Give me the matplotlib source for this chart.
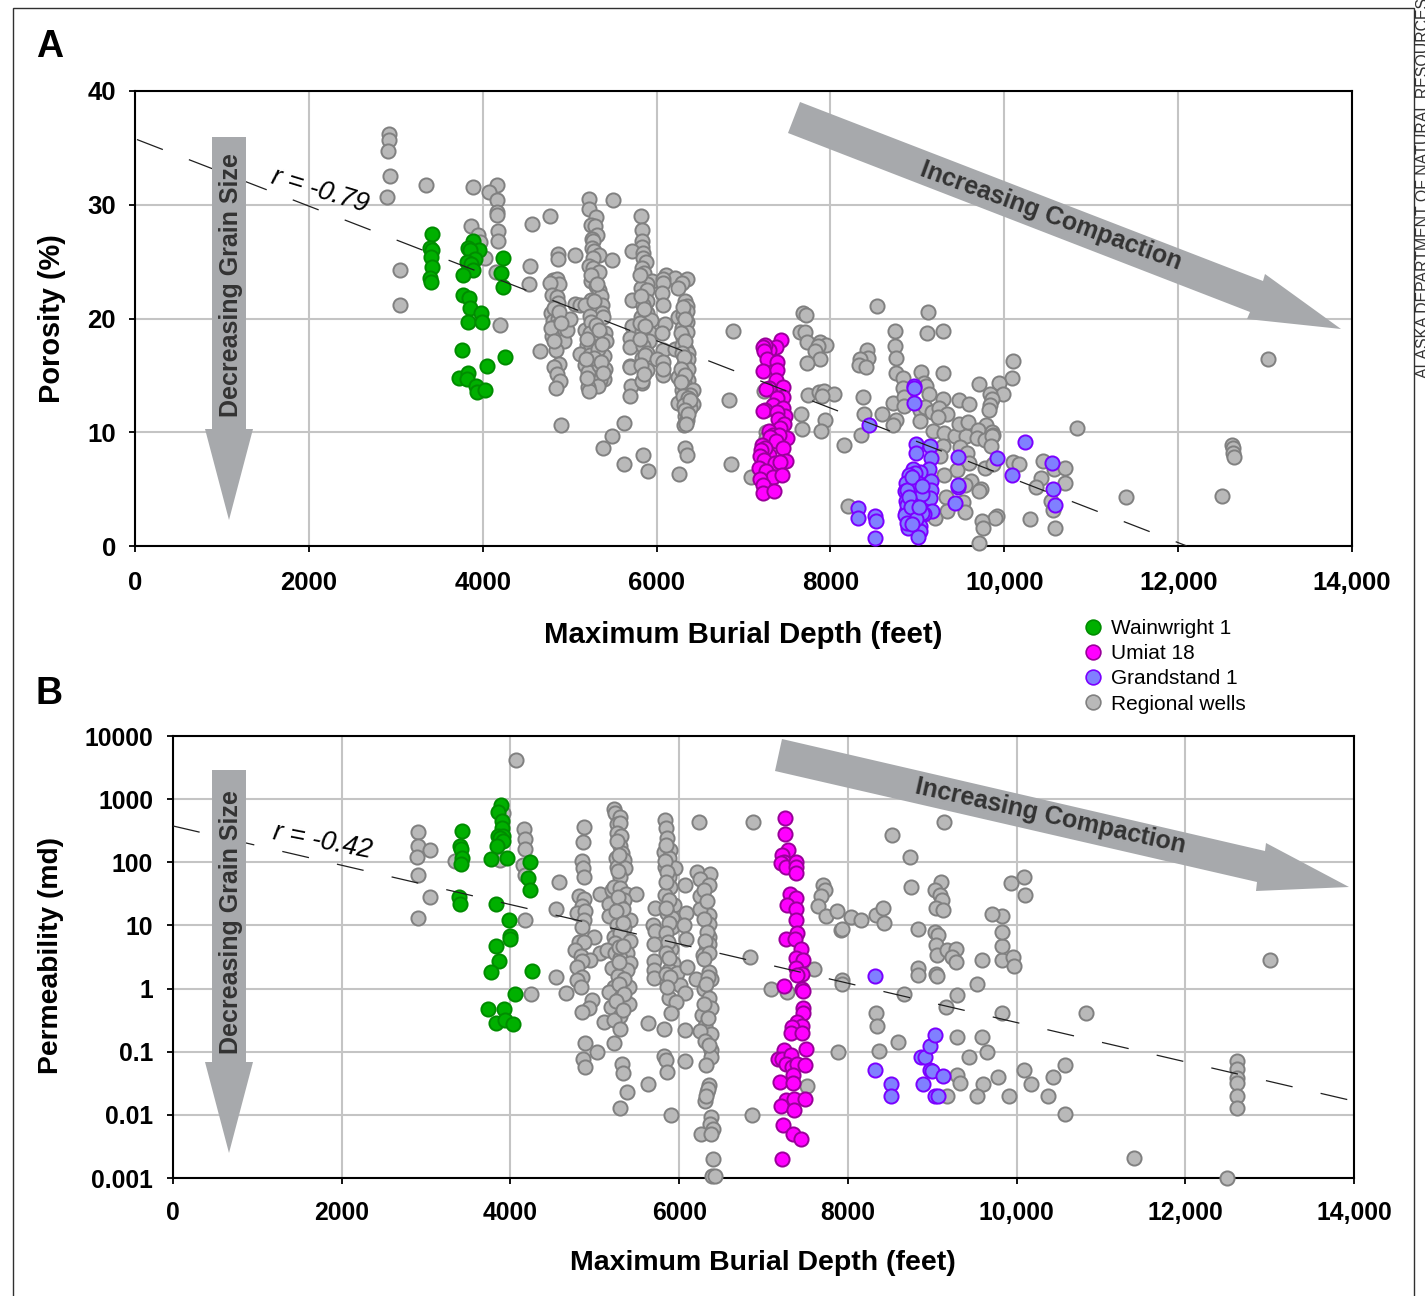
import matplotlib
matplotlib.use("Agg")
import matplotlib.pyplot as plt
from matplotlib.patches import Polygon, Rectangle
from matplotlib.lines import Line2D

plt.rcParams['font.family'] = ['Liberation Sans', 'DejaVu Sans']
plt.rcParams['lines.scale_dashes'] = False

W, H = 1425, 1296

# Panel A: (depth in feet, porosity in %)
wainwright_a = [(3420,27.4),(3397,26.2),(3420,26.0),(3401,25.4),(3412,24.5),(3389,23.6),(3409,23.2),
    (3889,26.8),(3831,26.2),(3958,26.0),(3850,26.0),(3908,25.2),(3820,25.0),(3860,24.8),(3889,24.3),(3773,23.8),
    (4234,25.3),(4207,24.0),(4234,22.8),(3773,22.1),(3839,21.8),(3858,20.9),(3985,20.5),(3831,19.7),(3996,19.7),
    (3766,17.2),(4261,16.6),(4050,15.8),(3724,14.8),(3827,15.2),(3820,14.7),(3919,14.1),(3931,13.5),(4031,13.7)]
umiat_a = [(7433,18.1),(7372,17.5),(7288,17.2),(7249,17.7),(7225,17.5),(7238,17.1),(7268,16.4),(7383,16.2),(7230,15.4),
    (7383,15.5),(7376,14.6),(7288,13.9),(7260,13.8),(7460,14.0),(7452,13.1),(7383,13.0),(7345,12.4),(7249,12.0),(7230,11.9),
    (7460,12.1),(7479,11.4),(7383,11.8),(7400,11.2),(7471,10.7),(7420,10.4),(7288,10.1),(7345,9.8),(7498,9.5),(7410,9.8),
    (7300,9.6),(7370,9.2),(7211,8.9),(7230,8.2),(7299,8.0),(7250,8.6),(7205,8.4),(7460,8.6),(7192,7.9),(7240,7.6),(7364,7.3),
    (7491,7.5),(7422,7.4),(7180,6.9),(7257,6.6),(7345,6.1),(7441,6.2),(7192,5.9),(7222,5.4),(7222,4.7),(7356,4.8)]
grandstand_a = [(8448,10.6),(8965,14.1),(8965,13.9),(8965,12.6),(8980,9.0),(9145,8.8),(8980,8.2),(9157,7.7),(9471,7.8),
    (9919,7.7),(10237,9.1),(10084,6.2),(10551,7.3),(10562,5.0),(10589,3.6),(9471,5.2),(9465,5.4),(9432,3.8),(8322,3.3),(8322,2.5),
    (8513,2.6),(8525,2.2),(8513,0.7),(9137,6.8),(9030,6.5),(8953,6.8),(8970,6.4),(8907,6.2),(9004,5.5),(9153,5.7),(9153,4.9),
    (9145,4.2),(8866,5.5),(8858,4.8),(8866,4.0),(8896,3.3),(9164,3.1),(9076,2.8),(8866,3.0),(8896,1.6),(8915,2.2),(9030,1.8),
    (9030,1.3),(9004,0.8),(9010,4.6),(8992,3.9),(8954,2.9),(9050,2.9),(8915,4.6),(8953,5.2),(9050,4.6),(8877,4.9),(8934,6.1),
    (8880,3.6),(8900,4.3),(8860,2.7),(8930,3.4),(8990,2.4),(9020,3.4),(8880,2.0),(8940,1.9),(9050,5.3)]
# regional wells, left part and the dense columns
regional_a_left = [(2920,36.2),(2925,35.7),(2910,34.7),(2930,32.5),(2898,30.7),(3343,31.7),(3044,24.3),(3044,21.2),
    (3889,31.6),(4165,31.7),(4069,31.1),(4169,30.4),(4169,29.4),(4169,29.1),(3862,28.1),(3946,27.3),(3965,26.7),(4177,27.7),
    (4180,26.8),(4572,28.3),(4776,29.0),(4157,24.1),(4023,25.3),(4541,24.6),(4534,23.0),(4200,19.4),(4657,17.1),(4906,10.6)]
regional_a_4800 = [(4868,25.7),(4868,25.2),(4810,23.4),(4850,23.5),(4880,23.0),(4775,23.1),(4800,22.1),(4850,21.9),(4868,21.4),
    (4791,20.5),(4810,19.8),(4868,20.0),(4850,19.3),(4838,18.7),(4800,18.5),(4940,18.0),(4968,19.0),(5000,20.0),(4838,17.2),
    (4880,16.0),(4825,15.7),(4860,15.1),(4885,14.5),(4840,13.9),(4820,20.9),(4880,20.6),(4790,19.2),(4825,18.0),(4900,19.6)]
regional_a_5200 = [(5221,30.5),(5501,30.4),(5221,29.6),(5302,28.9),(5240,28.2),(5290,28.1),(5309,27.3),(5252,27.0),(5271,26.8),
    (5260,26.2),(5280,25.9),(5060,25.6),(5340,25.6),(5271,25.3),(5225,24.6),(5271,24.4),(5482,25.1),(5340,24.1),(5250,23.3),
    (5300,22.9),(5340,22.5),(5360,22.0),(5240,21.6),(5060,21.3),(5117,21.2),(5175,21.2),(5367,21.2),(5367,20.5),(5233,20.2),
    (5380,20.1),(5175,19.0),(5240,19.7),(5233,18.7),(5405,18.7),(5350,18.5),(5417,18.0),(5194,17.7),(5240,17.6),(5394,16.7),
    (5117,16.9),(5233,16.8),(5330,17.3),(5175,15.9),(5240,16.2),(5213,15.3),(5405,15.6),(5340,15.9),(5394,14.7),(5350,14.6),
    (5329,14.1),(5213,14.0),(5221,13.6),(5300,19.4),(5340,19.0),(5200,18.2),(5370,17.8),(5280,16.5),(5360,16.2),(5190,16.4),
    (5380,15.2),(5200,14.8),(5250,23.8),(5320,23.0),(5280,21.5)]
regional_a_5800 = [(5820,29.0),(5828,27.8),(5836,26.8),(5828,26.3),(5713,25.9),(5847,25.8),(5840,25.3),(5878,25.0),(5828,24.4),
    (5860,24.0),(5943,23.3),(5885,23.0),(5820,22.7),(5885,22.5),(5713,21.6),(5885,21.5),(5840,21.2),(5885,20.5),(5820,20.1),
    (5935,19.9),(5713,19.3),(5924,18.7),(5830,18.9),(5693,18.3),(5693,17.5),(5916,18.0),(5840,17.6),(5885,17.0),(5830,16.5),
    (5693,15.8),(5700,15.7),(5885,15.5),(5828,14.3),(5701,14.1),(5835,14.5),(5693,13.2),(5815,23.8),(5825,22.0),(5850,20.8),
    (5815,19.6),(5870,19.3),(5815,18.2),(5870,16.8),(5825,15.9),(5850,15.1)]
regional_a_6100 = [(6108,23.8),(6212,23.6),(6354,23.5),(6077,23.5),(6069,23.1),(6288,23.1),(6242,22.7),(6058,22.2),(6077,21.2),
    (6242,20.1),(6097,19.5),(6058,18.7),(6077,17.2),(6212,17.3),(6000,16.4),(6077,16.2),(6069,15.0),(6069,15.6)]
regional_a_6300 = [(6327,21.5),(6346,21.1),(6346,20.7),(6300,20.3),(6346,19.7),(6290,19.2),(6346,18.8),(6300,18.3),(6288,17.7),
    (6340,17.3),(6365,17.0),(6365,16.4),(6310,16.0),(6365,15.6),(6250,14.9),(6300,15.2),(6365,14.6),(6320,14.3),(6288,13.7),
    (6340,13.8),(6423,13.7),(6380,13.3),(6242,12.6),(6350,12.9),(6415,12.5),(6380,12.1),(6327,11.4),(6350,11.1),(6319,10.6),
    (6340,10.9),(6327,8.6),(6346,8.0),(6258,6.3),(6300,21.0),(6330,20.0),(6280,18.7),(6330,18.0),(6290,17.0),(6320,16.6),
    (6280,15.6),(6330,15.0),(6280,14.4),(6300,13.2),(6360,13.0),(6310,12.4),(6390,12.8),(6330,12.0),(6360,11.6),(6340,10.7)]
regional_a_low = [(5628,10.8),(5482,9.7),(5379,8.6),(5847,8.0),(5628,7.2),(5905,6.6),(6876,18.9),(6834,12.8),(6857,7.2),(7088,6.1),
    (7260,10.0),(7240,13.6),(7255,9.5)]
regional_a_right = [(7690,20.5),(7717,20.3),(7651,18.8),(7702,18.8),(7728,17.9),(7881,17.9),(7950,17.7),(7860,17.6),(7825,17.1),
    (7881,16.4),(7736,16.1),(8532,21.1),(9126,20.6),(8743,18.9),(9291,18.9),(9107,18.7),(8425,17.2),(8437,16.5),(8341,16.4),
    (8333,15.9),(8410,15.7),(8743,17.6),(8755,16.5),(8751,15.2),(9042,15.3),(9298,15.2),(8838,14.8),(9080,14.3),(9100,14.1),
    (8838,13.9),(9134,13.4),(10103,16.3),(10091,14.8),(9712,14.2),(9938,14.3),(9980,13.4),(9835,13.4),(9854,12.9),(9835,12.4),
    (9827,12.0),(9291,12.9),(9482,12.8),(9593,12.5),(8724,12.6),(8846,13.1),(8846,12.3),(8372,13.1),(8387,11.6),(8590,11.6),
    (8751,11.1),(8724,10.6),(8349,9.8),(8161,8.9),(7740,13.3),(7863,13.5),(7931,13.6),(8046,13.4),(7900,13.2),(7663,11.6),
    (7939,11.1),(7671,10.3),(7889,10.1),(9030,12.0),(9085,12.2),(9164,11.8),(9249,12.1),(9337,11.6),(9241,11.3),(9030,11.0),
    (9176,10.1),(9306,9.9),(9432,9.7),(9559,9.7),(9482,10.7),(9586,10.9),(9785,10.6),(9700,10.2),(9854,10.0),(9873,9.8),
    (9689,9.5),(9777,9.3),(9854,9.7),(9842,8.8),(9298,8.8),(10831,10.4),(9490,8.7),(9566,8.2),(9260,7.9),(9597,7.3),(9451,6.7),
    (9777,6.9),(9873,7.2),(10103,7.4),(10172,7.2),(10440,7.5),(10570,6.8),(10704,6.9),(9306,6.2),(10417,6.0),(10696,5.5),(10363,5.2),
    (9612,5.7),(9547,5.4),(9727,5.0),(9712,4.8),(9329,4.3),(9528,3.9),(9344,3.1),(9547,3.0),(9203,2.5),(10543,4.0),(10555,3.2),
    (11397,4.3),(10294,2.4),(9911,2.6),(9890,2.5),(9739,2.2),(9758,1.6),(10589,1.6),(9708,0.3),(8199,3.5),(12500,4.4),(12625,8.9),
    (12630,8.6),(12630,8.2),(12640,7.8),(13030,16.4)]

# Panel B: (depth in feet, permeability in md)
wainwright_b = [(3426,318),(3402,178),(3410,161),(3422,116),(3414,94),(3394,28),(3402,22),(3885,813),(3850,635),(3897,443),
    (3897,348),(3857,257),(3909,262),(3877,241),(3917,218),(3846,178),(3774,112),(3964,117),(4234,100),(4214,56),(4234,37),
    (3834,22),(3988,12),(3996,6.8),(3996,6),(3830,4.7),(3861,2.7),(3770,1.86),(4261,1.9),(4051,0.82),(3731,0.47),(3921,0.47),
    (3826,0.29),(3937,0.32),(4028,0.275)]
umiat_b = [(7255,500),(7255,282),(7291,158),(7223,132),(7243,102),(7204,97),(7263,83),(7382,102),(7390,83),(7382,67),(7311,32),
    (7382,27),(7283,21),(7382,18),(7390,12),(7402,7.7),(7263,6.1),(7370,6.1),(7441,4.2),(7390,3),(7469,2.8),(7382,2.1),(7461,1.7),
    (7402,1.64),(7243,1.1),(7461,1),(7473,0.91),(7473,0.49),(7469,0.41),(7402,0.3),(7461,0.26),(7343,0.25),(7323,0.2),(7461,0.2),
    (7243,0.106),(7501,0.11),(7176,0.078),(7223,0.078),(7330,0.089),(7263,0.065),(7343,0.058),(7402,0.065),(7489,0.062),(7354,0.043),
    (7196,0.033),(7350,0.032),(7263,0.017),(7362,0.018),(7489,0.018),(7204,0.014),(7362,0.012),(7231,0.007),(7354,0.005),(7441,0.0041),
    (7223,0.002)]
grandstand_b = [(8322,1.58),(8322,0.051),(8511,0.031),(8511,0.02),(8866,0.083),(8914,0.083),(8890,0.031),(8973,0.123),(9033,0.184),
    (8973,0.051),(9000,0.05),(9127,0.041),(9033,0.02),(9068,0.02)]
regional_b_left = [(2903,304),(2903,184),(2891,123),(3046,157),(2903,62),(3050,28),(2903,13),(3343,105),(4071,4150),(3877,110),
    (3909,600),(4166,339),(4174,234),(4174,161),(4154,91),(4174,63),(4174,12),(4242,0.81),(4574,48),(4535,18.5),(4543,1.5),(4657,0.84)]
regional_b_4800 = [(4867,363),(4859,206),(4847,103),(4855,81),(4867,59),(4808,29),(4867,26),(4847,20),(4788,15.6),(4887,17),(4867,12),
    (4847,9.5),(4986,6.6),(4808,5.5),(4867,5.5),(4768,4.1),(4839,3.3),(5065,3.6),(4946,2.8),(4847,2.7),(4788,2.2),(4847,1.5),(4788,1.36),
    (4836,1.04),(4966,0.66),(4927,0.49),(4847,0.43),(5113,0.3),(4887,0.135),(5026,0.1),(4855,0.078),(4879,0.058)]
regional_b_5200 = [(5224,692),(5240,600),(5303,530),(5263,407),(5303,417),(5263,288),(5315,265),(5303,178),(5323,139),(5255,116),(5342,110),
    (5263,85),(5362,81),(5303,59),(5065,32),(5204,36),(5224,41),(5303,39),(5374,31.6),(5489,32),(5350,25),(5164,22),(5300,20),(5243,13),
    (5422,12),(5164,14),(5303,15.6),(5350,9),(5260,10),(5224,6.6),(5300,7.5),(5422,5.7),(5243,5.2),(5144,4.1),(5243,3.6),(5382,3.6),(5300,3),
    (5422,2.5),(5204,2.1),(5382,2),(5270,1.6),(5224,1.07),(5402,1.07),(5164,0.89),(5303,0.7),(5402,0.57),(5192,0.52),(5303,0.37),(5224,0.32),
    (5295,0.23),(5631,0.29),(5224,0.135),(5323,0.065),(5335,0.046),(5382,0.023),(5303,0.013),(5628,0.031),(5260,220),(5290,130),(5280,72),
    (5270,28),(5340,18),(5250,17),(5340,11),(5290,4.5),(5340,4.8),(5290,2.6),(5350,1.4),(5290,1.2),(5350,0.82),(5250,0.63),(5340,0.45)]
regional_b_5800 = [(5830,468),(5845,347),(5857,240),(5889,158),(5818,148),(5877,116),(5837,85),(5948,81),(5877,59),(5897,41),(5837,30),(5936,21),
    (5857,15.6),(5917,13),(5917,9.5),(6075,44),(6233,431),(6879,437),(5719,18.6),(5687,10),(5719,8.2),(5699,5),(5905,4.3),(5699,2.7),(5707,2),
    (5699,1.45),(5928,2.5),(5877,2),(5976,1.74),(5857,1.29),(6016,1.14),(6075,0.84),(5877,0.7),(5968,0.62),(5905,0.41),(5826,0.23),(6075,0.22),
    (5818,0.087),(5845,0.074),(6075,0.072),(5857,0.047),(5909,0.0101),(6083,15.6),(6055,10),(6087,6),(6095,2.2),(5850,190),(5830,105),(5860,70),
    (5850,48),(5880,25),(5850,19),(5880,11),(5850,7.5),(5870,5.5),(5850,3.6),(5880,3),(5850,1.7),(5890,1.5),(5860,1.05)]
regional_b_6300 = [(6214,71),(6364,65),(6253,55),(6352,44),(6245,29),(6352,14.7),(6245,18),(6352,10.7),(6352,6.6),(6352,5),(6313,4.1),(6285,3.4),
    (6352,1.85),(6194,1.41),(6372,1.4),(6293,1),(6352,0.7),(6372,0.49),(6273,0.38),(6301,0.26),(6372,0.19),(6245,0.21),(6372,0.106),(6380,0.083),
    (6313,0.062),(6352,0.03),(6333,0.023),(6301,0.0166),(6372,0.0093),(6364,0.0071),(6404,0.006),(6265,0.005),(6372,0.005),(6404,0.002),(6392,0.00107),
    (6420,0.00107),(6867,0.0101),(6835,3.2),(7085,1),(7283,0.89),(7600,2.05),(7513,0.029),(7883,0.1),(6300,36),(6330,24),(6290,12.5),(6330,8),(6310,5.6),
    (6350,3.6),(6300,2.9),(6340,1.55),(6320,1.2),(6300,0.58),(6340,0.34),(6310,0.15),(6350,0.13),(6340,0.026),(6320,0.02)]
regional_b_right = [(7703,44),(7730,37),(7687,29),(7647,20),(7738,14),(7877,17),(7917,8.5),(7930,8.7),(8037,13.5),(8155,12.3),(8333,14.6),(8416,19),
    (8428,11),(8523,270),(8736,120),(8748,40),(8831,8.7),(9140,440),(9104,49),(9033,36),(9092,30),(9116,25),(9045,19),(9127,17.6),(9033,8),(9068,7),
    (9045,4.9),(9057,3.4),(8831,2.1),(8831,1.64),(9045,1.7),(9057,1.6),(9175,4.1),(9282,4.2),(9234,3.2),(9282,2.6),(9590,2.8),(9827,2.8),(9957,3.2),
    (9827,4.7),(9827,7.9),(9827,14),(9708,15),(9933,47),(10088,59),(10100,30),(9969,2.3),(9531,1.17),(9294,0.79),(9163,0.52),(8665,0.81),(8333,0.41),
    (8345,0.26),(8594,0.14),(8369,0.102),(7930,1.36),(7935,1.2),(9294,0.17),(9590,0.17),(9436,0.083),(9649,0.1),(9294,0.043),(9329,0.032),(9175,0.02),
    (9602,0.031),(9531,0.02),(9779,0.04),(9910,0.02),(10088,0.051),(10171,0.031),(10372,0.02),(10431,0.04),(10573,0.062),(10573,0.0102),(9827,0.41),
    (10823,0.41),(11391,0.0021),(12494,0.001),(12613,0.071),(12613,0.053),(12613,0.038),(12613,0.032),(12613,0.02),(12613,0.013),(13004,2.8)]

trend_a_x = [0, 12100]
trend_a_y = [35.8, 0]
trend_b_x = [0, 14000]
trend_b_y = [376, 0.0165]

depth_ticks = [0, 2000, 4000, 6000, 8000, 10000, 12000, 14000]
depth_labels = ['0', '2000', '4000', '6000', '8000', '10,000', '12,000', '14,000']
por_ticks = [0, 10, 20, 30, 40]
perm_ticks = [0.001, 0.01, 0.1, 1, 10, 100, 1000, 10000]
perm_labels = ['0.001', '0.01', '0.1', '1', '10', '100', '1000', '10000']

legend_names = ['Wainwright 1', 'Umiat 18', 'Grandstand 1', 'Regional wells']
face = {'w': '#00b000', 'u': '#ff00ff', 'g': '#8080ff', 'r': '#b9b9b9'}
edge = {'w': '#008c00', 'u': '#990099', 'g': '#7a00ff', 'r': '#808080'}
GREY = '#a7a9ac'


def fx(x):
    return x / W


def fy(y):
    return 1 - y / H


def make_axes(left, right, top, bottom):
    return fig.add_axes([fx(left), fy(bottom), (right - left) / W, (bottom - top) / H])


def dots(ax, pts, key):
    xs = [p[0] for p in pts]
    ys = [p[1] for p in pts]
    ax.scatter(xs, ys, s=104, c=face[key], edgecolors=edge[key], linewidths=1.4, zorder=3, clip_on=False)


def style(ax, fs, xpad, ypad):
    ax.set_xlim(0, 14000)
    ax.set_xticks(depth_ticks)
    ax.set_xticklabels(depth_labels)
    ax.grid(True, color='#c4c4c4', linewidth=1.5)
    ax.set_axisbelow(True)
    for s in ax.spines.values():
        s.set_linewidth(1.5)
    ax.tick_params(which='major', length=4, width=1.3, labelsize=fs)
    ax.tick_params(axis='x', pad=xpad)
    ax.tick_params(axis='y', pad=ypad)
    for lab in ax.get_xticklabels() + ax.get_yticklabels():
        lab.set_fontweight('bold')


def arrow(points):
    fig.add_artist(Polygon([(fx(a), fy(b)) for a, b in points], closed=True, transform=fig.transFigure,
                           facecolor=GREY, edgecolor='none', zorder=1))


def ftext(x, y, s, **kw):
    fig.text(fx(x), fy(y), s, ha='center', va='center', rotation_mode='anchor', zorder=3, **kw)


fig = plt.figure(figsize=(W / 100, H / 100), dpi=100, facecolor='white')

# outer frame runs off the bottom of the page
fig.add_artist(Rectangle((fx(13), fy(1310)), (1414 - 13) / W, (1310 - 8) / H, transform=fig.transFigure,
                         facecolor='none', edgecolor='#303030', linewidth=1.0, zorder=0.5, clip_on=True))

# panel A
ax1 = make_axes(135, 1352, 91, 546)
for group in [regional_a_left, regional_a_4800, regional_a_5200, regional_a_5800, regional_a_6100,
              regional_a_6300, regional_a_low, regional_a_right]:
    dots(ax1, group, 'r')
dots(ax1, wainwright_a, 'w')
dots(ax1, umiat_a, 'u')
dots(ax1, grandstand_a, 'g')
ax1.plot(trend_a_x, trend_a_y, color='#202020', lw=0.9, linestyle=(-1.5, (20, 20.1)), zorder=4)
ax1.set_ylim(0, 40)
ax1.set_yticks(por_ticks)
style(ax1, 18.5, 14, 9.6)
ftext(743, 635, 'Maximum Burial Depth (feet)', fontsize=21.2, fontweight='bold')
ftext(52, 319, 'Porosity (%)', fontsize=20.9, fontweight='bold', rotation=90)

# panel B
ax2 = make_axes(173, 1354, 736, 1178)
ax2.set_yscale('log')
for group in [regional_b_left, regional_b_4800, regional_b_5200, regional_b_5800, regional_b_6300, regional_b_right]:
    dots(ax2, group, 'r')
dots(ax2, wainwright_b, 'w')
dots(ax2, umiat_b, 'u')
dots(ax2, grandstand_b, 'g')
ax2.plot(trend_b_x, trend_b_y, color='#202020', lw=0.9, linestyle=(0, (19.7, 20.7)), zorder=4)
ax2.set_ylim(0.001, 10000)
ax2.set_yticks(perm_ticks)
ax2.set_yticklabels(perm_labels)
ax2.minorticks_off()
style(ax2, 17.8, 12.5, 10.3)
ftext(763, 1263, 'Maximum Burial Depth (feet)', fontsize=20.5, fontweight='bold')
ftext(51, 956, 'Permeability (md)', fontsize=20.3, fontweight='bold', rotation=90)

# big annotation arrows
arrow([(212, 137), (246, 137), (246, 429), (253, 429), (229, 520), (205, 429), (212, 429)])
arrow([(212, 770), (246, 770), (246, 1062), (253, 1062), (229, 1153), (205, 1062), (212, 1062)])
arrow([(800, 102), (1263, 281), (1265, 274), (1341, 329), (1247, 319), (1250, 312), (788, 133)])
arrow([(782, 739), (1265, 851), (1266, 843), (1349, 887), (1256, 891), (1257, 882), (775, 771)])

ftext(231, 285, 'Decreasing Grain Size', fontsize=18, fontweight='bold', rotation=90, color='#333333')
ftext(231, 922, 'Decreasing Grain Size', fontsize=18, fontweight='bold', rotation=90, color='#333333')
ftext(1051, 216, 'Increasing Compaction', fontsize=18, fontweight='bold', rotation=-20, color='#333333')
ftext(1050, 816, 'Increasing Compaction', fontsize=18, fontweight='bold', rotation=-12.5, color='#333333')
ftext(320, 191, 'r = -0.79', fontsize=19.3, style='italic', rotation=-17)
ftext(322, 842, 'r = -0.42', fontsize=19.3, style='italic', rotation=-11)

ftext(50, 47, 'A', fontsize=27, fontweight='bold')
ftext(49, 694, 'B', fontsize=27, fontweight='bold')

fig.text(fx(1424), fy(378), 'ALASKA DEPARTMENT OF NATURAL RESOURCES', rotation=90, ha='center', va='bottom',
         fontsize=11.4, color='#333333')

handles = [Line2D([], [], linestyle='none', marker='o', markersize=10.6, markerfacecolor=face[k],
                  markeredgecolor=edge[k], markeredgewidth=1.2) for k in ['w', 'u', 'g', 'r']]
fig.legend(handles, legend_names, loc='upper left', bbox_to_anchor=(fx(1076), fy(619)), frameon=False, fontsize=15,
           labelspacing=0.30, handletextpad=0.1, borderpad=0, borderaxespad=0, handlelength=1.6)

fig.savefig('out.png', dpi=100)
